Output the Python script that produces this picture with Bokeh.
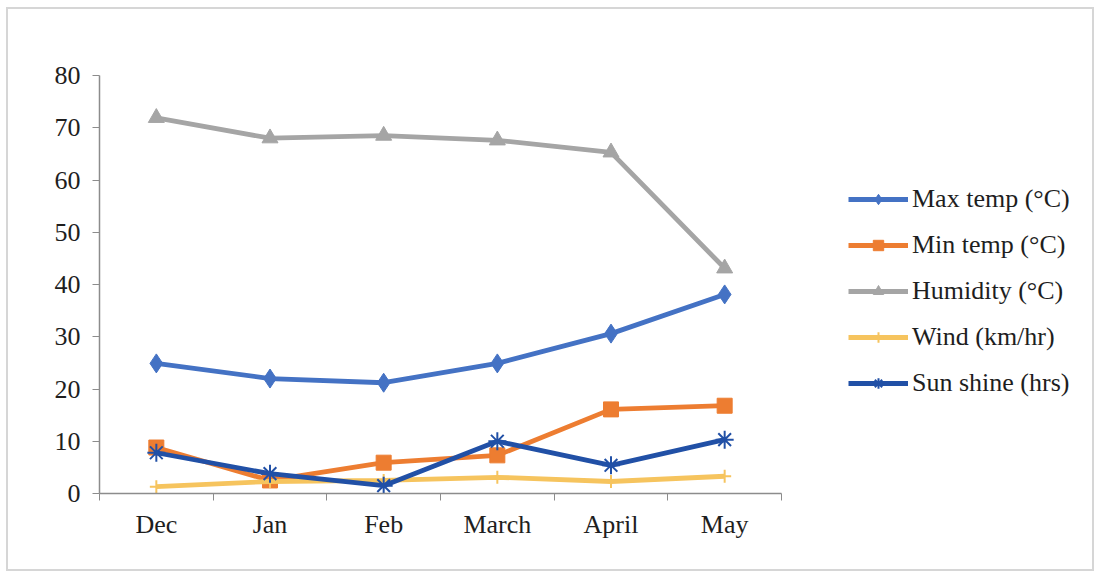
from bokeh.plotting import figure
from bokeh.models import FixedTicker, Legend, LegendItem, Range1d
from bokeh.embed import file_html
from bokeh.resources import INLINE

# Monthly weather observations
months = ["Dec", "Jan", "Feb", "March", "April", "May"]
max_temp = [24.9, 22.0, 21.2, 24.9, 30.6, 38.1]
min_temp = [8.8, 2.5, 5.9, 7.3, 16.1, 16.8]
humidity = [71.9, 68.0, 68.5, 67.6, 65.3, 43.1]
wind = [1.3, 2.3, 2.5, 3.1, 2.3, 3.3]
sun_shine = [7.8, 3.8, 1.5, 10.0, 5.4, 10.3]

y_ticks = [0, 10, 20, 30, 40, 50, 60, 70, 80]

FONT = "Liberation Serif"
FONT_SIZE = "26px"
AXIS_GREY = "#8c8c8c"
TEXT = "#1e1e1e"

n = len(months)
xs = [i + 0.5 for i in range(n)]

# The plotting frame also hosts the legend on its right; the x axis is
# bounded to the month span (682 px of the 991 px wide frame).
PLOT_W, FRAME_W = 682, 991
x_end = n * FRAME_W / PLOT_W

p = figure(width=1088, height=564, output_backend="svg", toolbar_location=None,
           x_range=Range1d(0, x_end), y_range=Range1d(0, 80),
           min_border_left=91, min_border_right=6,
           min_border_top=66, min_border_bottom=80,
           styles={"margin-left": "6px", "margin-top": "7px",
                   "border": "2px solid #d6d6d6"})
p.outline_line_color = None
p.grid.grid_line_color = None
p.background_fill_color = "white"
p.border_fill_color = "white"

# x axis: labels centred on each month, tick marks on the boundaries
p.xaxis.bounds = (0, n)
p.xaxis.ticker = FixedTicker(ticks=xs, minor_ticks=list(range(n + 1)))
p.xaxis.major_label_overrides = {x: m for x, m in zip(xs, months)}
p.xaxis.major_tick_line_color = None
p.xaxis.minor_tick_line_color = AXIS_GREY
p.xaxis.minor_tick_out = 7
p.xaxis.minor_tick_in = 0
p.xaxis.axis_line_color = AXIS_GREY
p.xaxis.axis_line_width = 1.5
p.xaxis.major_label_standoff = 9
p.xaxis.major_label_text_font = FONT
p.xaxis.major_label_text_font_size = FONT_SIZE
p.xaxis.major_label_text_color = TEXT

p.yaxis.ticker = FixedTicker(ticks=y_ticks)
p.yaxis.minor_tick_line_color = None
p.yaxis.major_tick_line_color = AXIS_GREY
p.yaxis.major_tick_out = 7
p.yaxis.major_tick_in = 0
p.yaxis.axis_line_color = AXIS_GREY
p.yaxis.axis_line_width = 1.5
p.yaxis.major_label_standoff = 12
p.yaxis.major_label_text_font = FONT
p.yaxis.major_label_text_font_size = FONT_SIZE
p.yaxis.major_label_text_color = TEXT

series = [
    ("Max temp (°C)", max_temp, "#4472C4", "diamond", 19),
    ("Min temp (°C)", min_temp, "#ED7D31", "square", 15),
    ("Humidity (°C)", humidity, "#A5A5A5", "triangle", 16),
    ("Wind (km/hr)", wind, "#F6C45E", "cross", 13),
    ("Sun shine (hrs)", sun_shine, "#2150A6", "asterisk", 18),
]

items = []
for label, ys, color, marker, size in series:
    ln = p.line(xs, ys, line_color=color, line_width=4.8)
    mk = p.scatter(xs, ys, marker=marker, size=size, fill_color=color,
                   line_color=color,
                   line_width=2 if marker in ("cross", "asterisk") else 1)
    items.append(LegendItem(label=label, renderers=[ln, mk]))

legend = Legend(items=items, location=(749, 95), orientation="vertical",
                border_line_color=None, background_fill_alpha=0,
                padding=0, margin=0, spacing=16, glyph_width=60,
                glyph_height=26, label_height=26, label_standoff=4,
                label_text_font=FONT, label_text_font_size=FONT_SIZE,
                label_text_color=TEXT)
p.add_layout(legend, "center")

open("out.html", "w").write(file_html(p, INLINE))
